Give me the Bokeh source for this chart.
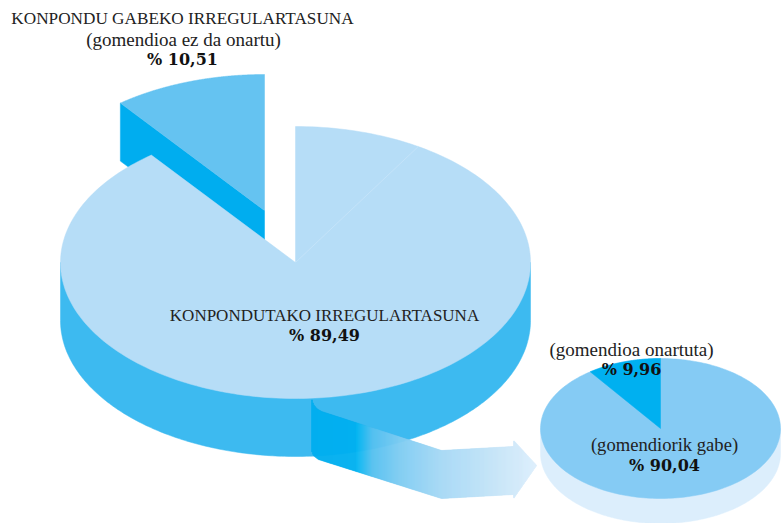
import numpy as np
from bokeh.plotting import figure
from bokeh.embed import file_html
from bokeh.resources import INLINE
from bokeh.core.properties import value

main_labels = ["KONPONDU GABEKO IRREGULARTASUNA", "KONPONDUTAKO IRREGULARTASUNA"]
main_values = [10.51, 89.49]
sub_labels = ["(gomendioa ez da onartu)", "(gomendioa onartuta)", "(gomendiorik gabe)"]
sub_values = [9.96, 90.04]

p = figure(width=781, height=523, x_range=(0, 781), y_range=(523, 0),
           output_backend="svg", toolbar_location=None, min_border=0,
           x_axis_location=None, y_axis_location=None, outline_line_color=None)
p.grid.visible = False
p.background_fill_color = "white"
p.border_fill_color = "white"


def sector(cx, cy, rx, ry, a0, a1):
    """Sector of an ellipse; angles in degrees counted clockwise from the top."""
    t = np.radians(np.linspace(a0, a1, 240))
    return ([cx] + list(cx + rx * np.sin(t)), [cy] + list(cy - ry * np.cos(t)))


def side(cx, cy, rx, ry, d, color):
    t = np.radians(np.linspace(90, 270, 240))
    xs = list(cx + rx * np.sin(t))
    ys = list(cy - ry * np.cos(t) + d)
    p.patch([cx + rx] + xs + [cx - rx], [cy] + ys + [cy], fill_color=color, line_color=color, line_width=0.5)


# main pie
cx, cy, rx, ry, depth = 295, 262, 235, 136, 58
ang = main_values[0] * 3.6
dx, dy = -31, -52
cs, sn = np.cos(np.radians(ang)), np.sin(np.radians(ang))
lx, ly = cx + dx - rx * sn, cy + dy - ry * cs
ax_, ay_ = cx + dx, cy + dy
p.patch([lx, ax_, ax_, lx], [ly, ay_, ay_ + depth, ly + depth],
        fill_color="#00ADEF", line_color="#00ADEF", line_width=0.5)
xs, ys = sector(cx + dx, cy + dy, rx, ry, -ang, 0)
p.patch(xs, ys, fill_color="#65C3F1", line_color="#65C3F1", line_width=0.5)
side(cx, cy, rx, ry, depth, "#3DBAF0")
xs, ys = sector(cx, cy, rx, ry, 0, 360 - ang)
p.patch(xs, ys, fill_color="#B6DDF7", line_color="#B6DDF7", line_width=0.5)
seam = np.radians(31.5)
p.line([cx, cx + rx * np.sin(seam)], [cy, cy - ry * np.cos(seam)], line_color="#C4E3F9", line_width=1)

# small pie
c2x, c2y, r2x, r2y, d2 = 660, 428, 120, 70, 25
side(c2x, c2y, r2x, r2y, d2, "#DCEEFC")
xs, ys = sector(c2x, c2y, r2x, r2y, 0, 360)
p.patch(xs, ys, fill_color="#85CBF4", line_color="#85CBF4", line_width=0.5)
xs, ys = sector(c2x, c2y, r2x, r2y, -sub_values[0] * 3.6, 0)
p.patch(xs, ys, fill_color="#00B0F0", line_color="#00B0F0", line_width=0.5)

# arrow drawn as thin strips so it can fade
shaft_top_x, shaft_top_y = [311, 313, 316, 321, 441, 513], [398, 404, 408, 411, 450, 446]
shaft_bot_x, shaft_bot_y = [311, 313, 318, 441, 513], [450, 455, 459, 498, 494]
head_x, head_top_y, head_bot_y = [513, 536], [440, 465], [498, 465]
stop_x = [311, 355.5, 356, 372, 400, 440, 500, 536]
stop_c = [(0, 173, 239), (0, 176, 240), (0, 181, 241), (84, 192, 240), (127, 204, 242),
          (165, 216, 245), (200, 229, 248), (220, 238, 252)]
grid = np.arange(311, 536, 1.0)
mid = grid + .5
cols = ["#%02x%02x%02x" % tuple(int(round(np.interp(m, stop_x, [s[i] for s in stop_c]))) for i in range(3))
        for m in mid]
tops = np.where(mid < 513, np.interp(mid, shaft_top_x, shaft_top_y), np.interp(mid, head_x, head_top_y))
bots = np.where(mid < 513, np.interp(mid, shaft_bot_x, shaft_bot_y), np.interp(mid, head_x, head_bot_y))
p.quad(left=grid, right=grid + 1.0, top=tops, bottom=bots, fill_color=cols, line_color=cols, line_width=0.6)

# texts
serif = value("Liberation Serif")
bold = value("DejaVu Serif")
txt = [
    (182, 18, main_labels[0], 17.2), (183, 39, sub_labels[0], 19),
    (324, 315, main_labels[1], 17),
    (631, 349, sub_labels[1], 19),
    (664, 444, sub_labels[2], 18.6),
]
for x, y, s, fs in txt:
    p.text([x], [y], text=[s], text_font=serif, text_font_size=f"{fs}px", text_color="#222222",
           text_align="center", text_baseline="middle")
pct = [
    (182, 59, f"% {main_values[0]:.2f}".replace(".", ",")),
    (324, 335, f"% {main_values[1]:.2f}".replace(".", ",")),
    (631, 369, f"% {sub_values[0]:.2f}".replace(".", ",")),
    (664, 465, f"% {sub_values[1]:.2f}".replace(".", ",")),
]
for x, y, s in pct:
    p.text([x], [y], text=[s], text_font=bold, text_font_size="16px", text_font_style="bold",
           text_color="#111111", text_align="center", text_baseline="middle")

open("out.html", "w").write(file_html(p, INLINE))
